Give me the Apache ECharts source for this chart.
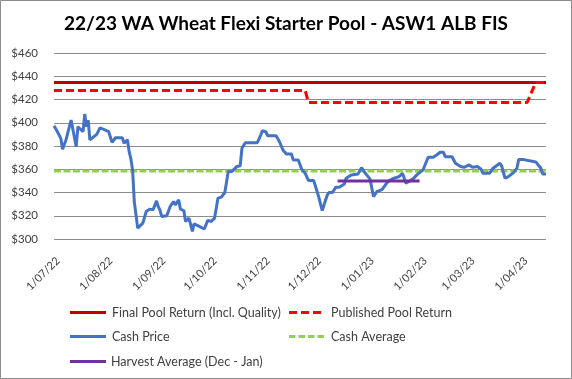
<!DOCTYPE html>
<html>
<head>
<meta charset="utf-8">
<script src="https://cdn.jsdelivr.net/npm/echarts@6/dist/echarts.min.js"></script>
<style>
html,body{margin:0;padding:0;background:#fff;}
#chart{width:572px;height:379px;}
</style>
</head>
<body>
<div id="chart"></div>
<script>
// ---- Data ----
const axisStart = '2022-07-01';
const axisEnd = '2023-04-15';

const cashDates = ['2022-07-01','2022-07-03','2022-07-05','2022-07-06','2022-07-08','2022-07-11','2022-07-14','2022-07-15','2022-07-18','2022-07-19','2022-07-20','2022-07-21','2022-07-22','2022-07-26','2022-07-28','2022-07-29','2022-08-02','2022-08-04','2022-08-06','2022-08-10','2022-08-11','2022-08-13','2022-08-14','2022-08-15','2022-08-16','2022-08-17','2022-08-19','2022-08-22','2022-08-24','2022-08-26','2022-08-28','2022-08-30','2022-08-31','2022-09-01','2022-09-02','2022-09-05','2022-09-07','2022-09-09','2022-09-10','2022-09-12','2022-09-13','2022-09-15','2022-09-16','2022-09-18','2022-09-20','2022-09-21','2022-09-24','2022-09-27','2022-09-29','2022-10-01','2022-10-03','2022-10-05','2022-10-07','2022-10-09','2022-10-11','2022-10-13','2022-10-16','2022-10-18','2022-10-19','2022-10-21','2022-10-28','2022-10-30','2022-10-31','2022-11-02','2022-11-03','2022-11-08','2022-11-10','2022-11-12','2022-11-14','2022-11-17','2022-11-18','2022-11-21','2022-11-23','2022-11-25','2022-11-27','2022-11-30','2022-12-03','2022-12-05','2022-12-06','2022-12-08','2022-12-09','2022-12-11','2022-12-13','2022-12-15','2022-12-18','2022-12-19','2022-12-22','2022-12-26','2022-12-28','2022-12-30','2023-01-02','2023-01-04','2023-01-06','2023-01-09','2023-01-11','2023-01-13','2023-01-16','2023-01-19','2023-01-21','2023-01-23','2023-01-24','2023-01-27','2023-01-30','2023-02-02','2023-02-05','2023-02-08','2023-02-10','2023-02-12','2023-02-14','2023-02-15','2023-02-19','2023-02-21','2023-02-24','2023-02-26','2023-03-01','2023-03-03','2023-03-06','2023-03-08','2023-03-09','2023-03-13','2023-03-15','2023-03-19','2023-03-20','2023-03-22','2023-03-24','2023-03-27','2023-03-29','2023-03-30','2023-04-02','2023-04-03','2023-04-09','2023-04-12','2023-04-13','2023-04-15'];
const cashValues = [397.4,392.3,386.6,377.2,385.2,402.3,379.4,396.6,392.3,407.5,396.6,402.3,385.2,390,395.7,396.6,392.3,383.2,387.1,387.1,382.3,385.4,375.1,368.9,359.4,332.2,309.4,313.7,323.7,325.7,325.1,332.8,328,325.1,319.4,320,328,332.2,329.4,333.7,325.7,324.5,315.1,318,306.5,313.1,310.8,308.6,316,315.1,318,335.2,336,340,358,358,362.3,362.9,378,382.8,382.8,389.4,393.1,392.3,388.9,388.9,383.7,376.6,373.2,373.2,368,368,360,356.6,350.3,350.3,336,324.5,324.5,338,340,340,344.6,344.6,347.4,352.3,355.1,356,361.4,357.1,351.5,336.5,340.8,342.5,346.6,350,352.3,353.7,356.6,348,347.4,351.5,356,359.4,370.3,370.3,372.3,374.6,374.6,370.8,370.8,365.2,362.3,361.7,363.7,361.7,362.3,360,356.6,356.6,360.9,365.2,363,352.3,353.7,357.1,360.9,368.3,368.3,366.6,366.3,360.9,356,356];

const finalPoolDates = ['2022-07-01','2023-04-15'];
const finalPoolValues = [434.6,434.6];

const publishedDates = ['2022-07-01','2022-11-25','2022-11-27','2023-04-04','2023-04-09','2023-04-15'];
const publishedValues = [427.8,427.8,417.5,417.5,434.6,434.6];

const cashAvgDates = ['2022-07-01','2023-04-15'];
const cashAvgValues = [358.6,358.6];

const harvestDates = ['2022-12-14','2023-01-31'];
const harvestValues = [350,350];

const yTicks = [300,320,340,360,380,400,420,440,460];

const seriesNames = ['Final Pool Return (Incl. Quality)','Published Pool Return','Cash Price','Cash Average','Harvest Average (Dec - Jan)'];

// ---- Build categories (every day) ----
function fmt(d){
  const m = d.getUTCMonth()+1, dd = d.getUTCDate();
  return d.getUTCFullYear()+'-'+(m<10?'0':'')+m+'-'+(dd<10?'0':'')+dd;
}
const days = [];
for(let t = Date.parse(axisStart+'T00:00:00Z'); t <= Date.parse(axisEnd+'T00:00:00Z'); t += 86400000){
  days.push(fmt(new Date(t)));
}
function pairs(ds, vs){ return ds.map((d,i)=>[d, vs[i]]); }

const FONT = 'Lato';
const chart = echarts.init(document.getElementById('chart'), null, {renderer:'canvas'});

const ICON_SOLID = 'path://M0,0H36V3H0Z';
const ICON_RED_DASH = 'path://M0,0H8V3H0Z M12,0H20V3H12Z M24,0H32V3H24Z';
const ICON_GREEN_DASH = 'path://M0,0H6.5V3H0Z M9.5,0H16V3H9.5Z M19,0H25.5V3H19Z M28.5,0H35V3H28.5Z';

function legendAt(name, icon, w, left, top, padLeft){
  return {
    data:[{name:name, icon:icon}], left:left, top:top, orient:'horizontal',
    itemWidth:w, itemHeight:3, itemGap:0, padding:0, symbolKeepAspect:false,
    textStyle:{fontFamily:FONT, fontSize:12.5, color:'#404040', padding:[0,0,0,padLeft]},
    selectedMode:false
  };
}

chart.setOption({
  animation:false,
  backgroundColor:'#fff',
  title:{
    text:'22/23 WA Wheat Flexi Starter Pool - ASW1 ALB FIS',
    left:'center', top:9,
    textStyle:{fontFamily:FONT, fontWeight:'bold', fontSize:19, color:'#000'}
  },
  graphic:[{type:'rect', shape:{x:0.5,y:0.5,width:571,height:378}, style:{fill:null, stroke:'#8c8c8c', lineWidth:1}, silent:true}],
  legend:[
    legendAt(seriesNames[0], ICON_SOLID, 36, 70, 306, 1),
    legendAt(seriesNames[1], ICON_RED_DASH, 32, 289, 306, 5),
    legendAt(seriesNames[2], ICON_SOLID, 36, 70, 330, 1),
    legendAt(seriesNames[3], ICON_GREEN_DASH, 35, 289, 330, 2),
    legendAt(seriesNames[4], ICON_SOLID, 36, 70, 355, 0)
  ],
  grid:{left:54, right:26, top:53, bottom:140, containLabel:false},
  xAxis:{
    type:'category', data:days, boundaryGap:false,
    axisLine:{show:false}, axisTick:{show:false},
    axisLabel:{
      rotate:45, margin:16, verticalAlign:'top', fontFamily:FONT, fontSize:11, color:'#404040',
      interval:function(i, v){ return v.slice(8)==='01'; },
      formatter:function(v){ const p=v.split('-'); return (+p[2])+'/'+p[1]+'/'+p[0].slice(2); }
    },
    splitLine:{show:false}
  },
  yAxis:{
    type:'value', min:yTicks[0], max:yTicks[yTicks.length-1], interval:20,
    axisLine:{show:false}, axisTick:{show:false},
    axisLabel:{fontFamily:FONT, fontSize:11.5, color:'#404040', margin:16, formatter:function(v){return '$'+v;}},
    splitLine:{lineStyle:{color:'#8c8c8c', width:1}}
  },
  series:[
    {name:seriesNames[0], type:'line', data:pairs(finalPoolDates, finalPoolValues), symbol:'none', z:3,
      lineStyle:{color:'#C00000', width:3}, itemStyle:{color:'#C00000'}},
    {name:seriesNames[1], type:'line', data:pairs(publishedDates, publishedValues), symbol:'none', z:4,
      lineStyle:{color:'#FF0000', width:3, type:[8,4]}, itemStyle:{color:'#FF0000'}},
    {name:seriesNames[2], type:'line', data:pairs(cashDates, cashValues), symbol:'none', z:5,
      lineStyle:{color:'#4472C4', width:3}, itemStyle:{color:'#4472C4'}},
    {name:seriesNames[3], type:'line', data:pairs(cashAvgDates, cashAvgValues), symbol:'none', z:4,
      lineStyle:{color:'#92D050', width:3, type:[7,2.5]}, itemStyle:{color:'#92D050'}},
    {name:seriesNames[4], type:'line', data:pairs(harvestDates, harvestValues), symbol:'none', z:6,
      lineStyle:{color:'#7030A0', width:3}, itemStyle:{color:'#7030A0'}}
  ]
});
</script>
</body>
</html>
